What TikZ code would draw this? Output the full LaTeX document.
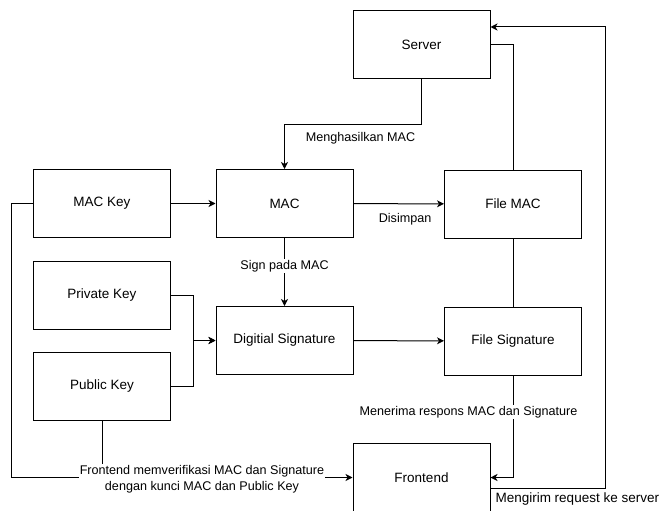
\documentclass[tikz,border=0pt]{standalone}
\usepackage{fontspec}
\setmainfont{Liberation Sans}
\usetikzlibrary{arrows.meta}
\usetikzlibrary{quotes}
\usetikzlibrary{calc}

\begin{document}
\begin{tikzpicture}[x=1pt,y=-1pt,line width=1pt,
    every edge quotes/.style={font=\fontsize{12.6}{15}\selectfont,inner sep=1pt},
    box/.style={draw,minimum width=137pt,minimum height=68pt,inner sep=0pt,font=\fontsize{13.5}{16}\selectfont},
    lbl/.style={font=\fontsize{12.6}{15}\selectfont,inner sep=1pt,fill=white,align=center},
    onwhite/.style={fill=white,pos=0.41},
    under/.style={below=8pt,pos=0.57},
    >={Stealth[length=7pt,width=7pt,inset=2pt]}]
    \useasboundingbox (0,0) rectangle (661,511);
    \node[box] (srv) at (421.5,44.5) {Server};
    \node[box] (mackey) at (102,203.5) {MAC Key};
    \node[box] (mac) at (284.5,203.5) {MAC};
    \node[box] (filemac) at (513,204) {File MAC};
    \node[box] (privkey) at (102,295.5) {Private Key};
    \node[box] (pubkey) at (102,386) {Public Key};
    \node[box] (digsig) at (284.5,340.5) {Digitial Signature};
    \node[box] (filesig) at (513,341) {File Signature};
    \node[box] (frontend) at (421.5,477.5) {Frontend};
    \draw (mackey) edge[->] (mac) ;
    \draw (mac) edge["Disimpan" under,->] (filemac) ;
    \draw (mac) edge["Sign pada MAC" onwhite,->] (digsig) ;
    \draw (digsig) edge[->] (filesig) ;
    \draw (filemac) edge (filesig) ;
    \draw (filemac.north) |- (srv.east) ;
    \draw[->] (srv.south) -- ++(0,45) -| (mac.north) ;
    \node[lbl,fill=none] (lblgen) at (360.5,138) {Menghasilkan MAC};
    \draw[->] (privkey.east) -- ++(22,0) |- (digsig.west) ;
    \draw[->] (pubkey.east) -- ++(22,0) |- (digsig.west) ;
    \draw[->] (filesig.south) |- (frontend.east) ;
    \node[lbl] (lblres) at (468.5,412) {Menerima respons MAC dan Signature};
    \draw[->] ($(frontend.east)+(0,10.5)$) -- ++(115,0) |- ($(srv.east)+(0,-17.5)$) ;
    \node[lbl,anchor=west,font=\fontsize{13.5}{16}\selectfont] (lblreq) at (494,499) {Mengirim request ke server};
    \draw[->] (mackey.west) -- ++(-22,0) |- (frontend.west) ;
    \draw (pubkey.south) -- (pubkey.south |- frontend.west) ;
    \node[lbl,font=\fontsize{12.6}{16}\selectfont] (lblver) at (202,479) {Frontend memverifikasi MAC dan Signature\\dengan kunci MAC dan Public Key};
\end{tikzpicture}
\end{document}
